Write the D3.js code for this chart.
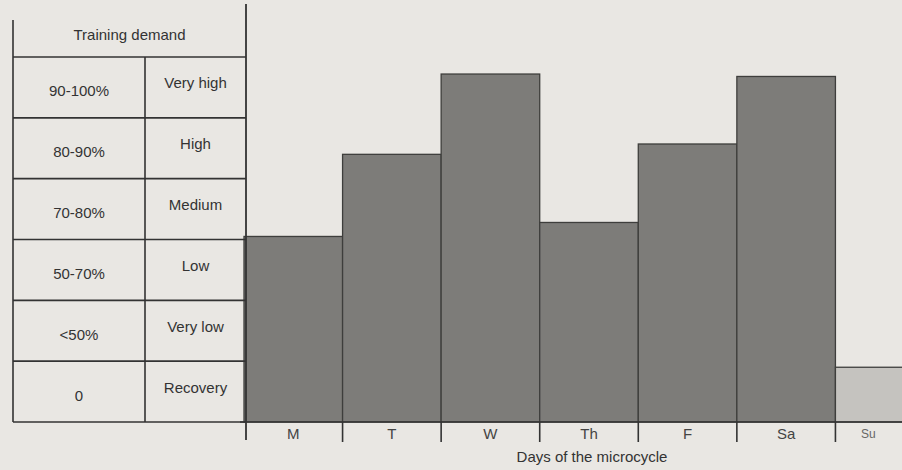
<!DOCTYPE html>
<html>
<head>
<meta charset="utf-8">
<script src="https://cdn.jsdelivr.net/npm/d3@7"></script>
<style>
  body { margin: 0; background: #e9e7e3; }
  svg { display: block; font-family: "Liberation Sans", Arial, sans-serif; }
</style>
</head>
<body>
<script>
// days of the microcycle and the training demand (in table rows, 0 = baseline)
const days = ["M", "T", "W", "Th", "F", "Sa", "Su"];
const demand = [3.05, 4.4, 5.72, 3.28, 4.57, 5.68, 0.9];
const ranges = ["90-100%", "80-90%", "70-80%", "50-70%", "<50%", "0"];
const levels = ["Very high", "High", "Medium", "Low", "Very low", "Recovery"];

const width = 902, height = 470;

const svg = d3.select("body").append("svg")
    .attr("width", width)
    .attr("height", height);

svg.append("rect")
    .attr("width", width)
    .attr("height", height)
    .attr("fill", "#e9e7e3");

// scales
const x = d3.scaleBand()
    .domain(days)
    .range([244, 934])
    .padding(0);

const y = d3.scaleLinear()
    .domain([0, 6])
    .range([422, 57]);

const ink = "#333";

//Bars
svg.selectAll("rect.bar")
    .data(days)
    .enter()
    .append("rect")
    .attr("class", "bar")
    .attr("x", d => x(d))
    .attr("y", (d, i) => y(demand[i]))
    .attr("width", x.bandwidth())
    .attr("height", (d, i) => y(0) - y(demand[i]))
    .attr("fill", d => d === "Su" ? "#c5c3bf" : "#7d7c79")
    .attr("stroke", "#3e3e3c")
    .attr("stroke-width", 1.3);

//Table on the left
const table = svg.append("g");
const tLeft = 13, tMid = 145, tRight = 246;

table.append("text")
    .attr("x", (tLeft + tRight) / 2)
    .attr("y", 36)
    .attr("text-anchor", "middle")
    .attr("dominant-baseline", "middle")
    .attr("font-size", 15)
    .attr("fill", ink)
    .text("Training demand");

// horizontal row lines
table.selectAll("line.row")
    .data(d3.range(7))
    .enter()
    .append("line")
    .attr("x1", tLeft)
    .attr("x2", tRight)
    .attr("y1", i => y(6 - i))
    .attr("y2", i => y(6 - i))
    .attr("stroke", ink)
    .attr("stroke-width", 1.6);

table.append("line")
    .attr("x1", tLeft).attr("x2", tLeft)
    .attr("y1", 20).attr("y2", y(0))
    .attr("stroke", ink).attr("stroke-width", 1.6);

table.append("line")
    .attr("x1", tMid).attr("x2", tMid)
    .attr("y1", y(6)).attr("y2", y(0))
    .attr("stroke", ink).attr("stroke-width", 1.6);

table.selectAll("text.range")
    .data(ranges)
    .enter()
    .append("text")
    .attr("x", (tLeft + tMid) / 2)
    .attr("y", (d, i) => y(5.5 - i) + 5)
    .attr("text-anchor", "middle")
    .attr("dominant-baseline", "middle")
    .attr("font-size", 15)
    .attr("fill", ink)
    .text(d => d);

table.selectAll("text.level")
    .data(levels)
    .enter()
    .append("text")
    .attr("x", (tMid + tRight) / 2)
    .attr("y", (d, i) => y(5.5 - i) - 3)
    .attr("text-anchor", "middle")
    .attr("dominant-baseline", "middle")
    .attr("font-size", 15)
    .attr("fill", ink)
    .text(d => d);

//Axes
svg.append("line")
    .attr("x1", tRight).attr("x2", tRight)
    .attr("y1", 4).attr("y2", 440)
    .attr("stroke", ink).attr("stroke-width", 1.8);

svg.append("line")
    .attr("x1", 240).attr("x2", width)
    .attr("y1", y(0)).attr("y2", y(0))
    .attr("stroke", ink).attr("stroke-width", 1.6);

svg.selectAll("line.tick")
    .data(days.slice(1))
    .enter()
    .append("line")
    .attr("x1", d => x(d)).attr("x2", d => x(d))
    .attr("y1", y(0)).attr("y2", y(0) + 20)
    .attr("stroke", ink).attr("stroke-width", 1.6);

svg.selectAll("text.day")
    .data(days)
    .enter()
    .append("text")
    .attr("x", d => d === "Su" ? x(d) + 33 : x(d) + x.bandwidth() / 2)
    .attr("y", y(0) + 13)
    .attr("text-anchor", "middle")
    .attr("dominant-baseline", "middle")
    .attr("font-size", d => d === "Su" ? 12 : 15)
    .attr("fill", d => d === "Su" ? "#666" : "#444")
    .text(d => d);

svg.append("text")
    .attr("x", 592)
    .attr("y", 458)
    .attr("text-anchor", "middle")
    .attr("dominant-baseline", "middle")
    .attr("font-size", 15)
    .attr("fill", ink)
    .text("Days of the microcycle");
</script>
</body>
</html>
